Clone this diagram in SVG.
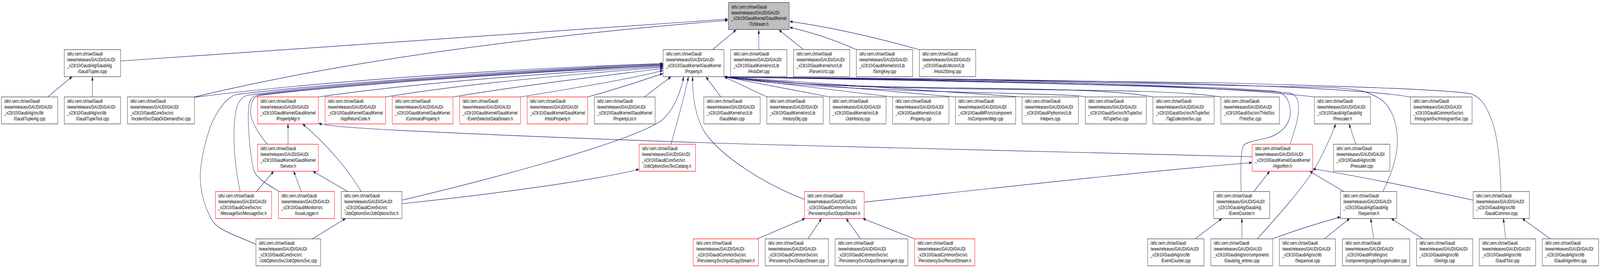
<svg xmlns="http://www.w3.org/2000/svg" width="5764" height="683" viewBox="0 0 5764 683" preserveAspectRatio="none">
<style>
svg:root{width:100vw;height:100vh}
.node rect{fill:#fff;stroke:#333;stroke-width:1.2}
.node.red rect{stroke:#ff0000}
.node.root rect{fill:#bfbfbf}
.node text{font-family:"Liberation Sans",Arial,Helvetica,sans-serif;font-size:13px;fill:#000}
.node text.c{text-anchor:middle}
.edge path{fill:none;stroke:#191970;stroke-width:1.2;marker-end:url(#arr)}
</style>
<defs>
<marker id="arr" viewBox="0 0 10 7" refX="10" refY="3.5" markerWidth="10" markerHeight="7" markerUnits="userSpaceOnUse" orient="auto">
<path d="M0,0 L10,3.5 L0,7 z" fill="#191970" stroke="#191970" stroke-width="0.5"/>
</marker>
</defs>
<rect x="0" y="0" width="5764" height="683" fill="#fff"/>
<g id="edges" class="edge">
<path id="e1" d="M434.5,156 L2622,49"/>
<path id="e2" d="M700.5,248 C1100,180 1700,105 2622,52"/>
<path id="e3" d="M2567,127 L2652,76.5"/>
<path id="e4" d="M2733.5,127 L2733.5,76.5"/>
<path id="e5" d="M2895,127 L2806,76.5"/>
<path id="e6" d="M3085,127 C3000,100 2920,82 2845,70"/>
<path id="e7" d="M3312,127 C3150,95 3000,70 2845,55"/>
<path id="e8" d="M700.5,249 C1100,212 1800,176 2388,162.5"/>
<path id="e9" d="M922,625 C860,605 790,590 767,567 C735,530 718,480 722,440 C726,400 740,360 760,320 C785,280 815,250 850,242 C1000,226 1800,180 2388,163.5"/>
<path id="e10" d="M865,490 C850,440 838,370 845,310 C850,270 862,250 890,244 C1100,222 1800,184 2388,165"/>
<path id="e11" d="M1006,490 C960,470 918,455 912,430 C898,380 890,300 897,268 C901,252 912,246 930,243 C1150,222 1800,186 2388,166.5"/>
<path id="e12" d="M963,369 C935,345 905,315 903,288 C902,262 912,248 935,244 C1150,224 1800,188 2388,168"/>
<path id="e13" d="M1147,248 C1500,212 2000,186 2388,170"/>
<path id="e14" d="M1389,248 C1700,212 2100,188 2388,172"/>
<path id="e15" d="M1632,248 C1900,216 2200,192 2388,175"/>
<path id="e16" d="M1875,248 C2100,222 2300,198 2388,180"/>
<path id="e17" d="M2117,248 C2250,222 2330,202 2388,188"/>
<path id="e18" d="M2321,248 L2417,196.5"/>
<path id="e19" d="M1448,512 C1700,470 2250,370 2380,310 C2425,285 2450,240 2463,196.5"/>
<path id="e20" d="M2417,369 C2440,310 2465,250 2480,196.5"/>
<path id="e21" d="M2898,510 C2750,470 2600,400 2540,340 C2505,300 2495,250 2495,196.5"/>
<path id="e22" d="M2597,248 L2543,196.5"/>
<path id="e23" d="M2763,248 L2609,196.5"/>
<path id="e24" d="M2989,248 L2609,196.5"/>
<path id="e25" d="M3215.5,248 L2609,196.5"/>
<path id="e26" d="M3442,248 L2609,196.5"/>
<path id="e27" d="M3682,248 L2609,196.5"/>
<path id="e28" d="M3910,248 C3870,236 3000,240 2610,197"/>
<path id="e29" d="M4153.5,248 C3900,212 3100,240 2610,197"/>
<path id="e30" d="M4398.5,248 C4100,215 3200,246 2610,197"/>
<path id="e31" d="M4735,248 C4300,210 3300,205 2610,197"/>
<path id="e32" d="M5081.5,248 C4800,215 3800,202 2610,197"/>
<path id="e33" d="M4471,490 C4470,440 4468,385 4480,372 C4490,362 4540,358 4570,352 C4620,340 4650,315 4648,285 C4646,255 4630,240 4600,234 C4300,215 3300,205 2610,197"/>
<path id="e34" d="M4648,369 C4665,330 4680,300 4678,270 C4676,250 4665,240 4640,237 C4300,220 3300,205 2610,197"/>
<path id="e35" d="M4982,490 C5010,450 5035,400 5034,360 C5033,310 5010,270 4970,252 C4930,235 4900,228 4800,224 C4200,210 3300,202 2610,197"/>
<path id="e36" d="M5407,490 C5405,420 5395,340 5370,300 C5350,265 5330,248 5300,240 C5200,228 4800,220 4400,212 C3800,204 3200,200 2610,197"/>
<path id="e37" d="M1037.5,369 L1037.5,317"/>
<path id="e38" d="M1301,490 C1260,440 1180,370 1090,317"/>
<path id="e39" d="M4511,401 C3900,390 3300,378 2880,372 C2400,364 1700,343 1400,332 C1280,327 1200,324 1148,316"/>
<path id="e40" d="M1253,490 L1127,438"/>
<path id="e41" d="M1085.5,490 L1058,438"/>
<path id="e42" d="M924,490 L986,438"/>
<path id="e43" d="M1125,611 L1245,559"/>
<path id="e44" d="M1448,521 C1800,495 2150,460 2302,433"/>
<path id="e45" d="M171.5,248 L260,196"/>
<path id="e46" d="M333,248 L333,196"/>
<path id="e47" d="M2728,611 L2900,559"/>
<path id="e48" d="M2910.6,611 L2959.6,559"/>
<path id="e49" d="M3100.5,611 L3048,559"/>
<path id="e50" d="M3295,611 L3108,559"/>
<path id="e51" d="M3113,517 C3600,480 4100,440 4510,416"/>
<path id="e52" d="M4517,490 L4574,438"/>
<path id="e53" d="M4841,490 L4718,438"/>
<path id="e54" d="M5307,512 C5100,480 4850,445 4730,432"/>
<path id="e55" d="M4305,611 L4402,559"/>
<path id="e56" d="M4473.8,611 L4473.8,559"/>
<path id="e57" d="M4529,611 C4620,540 4720,460 4760,400 C4785,365 4800,340 4812,317"/>
<path id="e58" d="M4585,611 C4680,585 4780,565 4829,555"/>
<path id="e59" d="M4771,611 L4862,559"/>
<path id="e60" d="M4949,611 L4938,559"/>
<path id="e61" d="M5125.5,611 L5012,559"/>
<path id="e62" d="M5424,611 L5416,559"/>
<path id="e63" d="M5585,611 L5484,559"/>
<path id="e64" d="M4884,369 L4860,317"/>
</g>
<g id="nodes">
<g id="n_tostream" class="node root"><rect x="2624" y="6.5" width="219" height="69"/><text><tspan x="2634" y="22">/afs/.cern.ch/sw/Gaudi</tspan><tspan x="2634" y="36.7">/www/releases/GAUDI/GAUDI</tspan><tspan x="2634" y="51.4">_v23r10/GaudiKernel/GaudiKernel</tspan></text><text class="c" x="2733.5" y="66.1">/ToStream.h</text></g>

<g id="n_gaudituples_icpp" class="node"><rect x="231.5" y="127" width="203" height="69"/><text><tspan x="241.5" y="142.5">/afs/.cern.ch/sw/Gaudi</tspan><tspan x="241.5" y="157.2">/www/releases/GAUDI/GAUDI</tspan><tspan x="241.5" y="171.9">_v23r10/GaudiAlg/GaudiAlg</tspan></text><text class="c" x="333" y="186.6">/GaudiTuples.icpp</text></g>
<g id="n_property_h" class="node"><rect x="2389" y="127" width="219" height="69"/><text><tspan x="2399" y="142.5">/afs/.cern.ch/sw/Gaudi</tspan><tspan x="2399" y="157.2">/www/releases/GAUDI/GAUDI</tspan><tspan x="2399" y="171.9">_v23r10/GaudiKernel/GaudiKernel</tspan></text><text class="c" x="2498.5" y="186.6">/Property.h</text></g>
<g id="n_histodef" class="node"><rect x="2632" y="127" width="203" height="69"/><text><tspan x="2642" y="142.5">/afs/.cern.ch/sw/Gaudi</tspan><tspan x="2642" y="157.2">/www/releases/GAUDI/GAUDI</tspan><tspan x="2642" y="171.9">_v23r10/GaudiKernel/src/Lib</tspan></text><text class="c" x="2733.5" y="186.6">/HistoDef.cpp</text></g>
<g id="n_parsersvct" class="node"><rect x="2859" y="127" width="202" height="69"/><text><tspan x="2869" y="142.5">/afs/.cern.ch/sw/Gaudi</tspan><tspan x="2869" y="157.2">/www/releases/GAUDI/GAUDI</tspan><tspan x="2869" y="171.9">_v23r10/GaudiKernel/src/Lib</tspan></text><text class="c" x="2960" y="186.6">/ParsersVct.cpp</text></g>
<g id="n_stringkey" class="node"><rect x="3085" y="127" width="203" height="69"/><text><tspan x="3095" y="142.5">/afs/.cern.ch/sw/Gaudi</tspan><tspan x="3095" y="157.2">/www/releases/GAUDI/GAUDI</tspan><tspan x="3095" y="171.9">_v23r10/GaudiKernel/src/Lib</tspan></text><text class="c" x="3186.5" y="186.6">/StringKey.cpp</text></g>
<g id="n_histo2string" class="node"><rect x="3312" y="127" width="203" height="69"/><text><tspan x="3322" y="142.5">/afs/.cern.ch/sw/Gaudi</tspan><tspan x="3322" y="157.2">/www/releases/GAUDI/GAUDI</tspan><tspan x="3322" y="171.9">_v23r10/GaudiUtils/src/Lib</tspan></text><text class="c" x="3413.5" y="186.6">/Histo2String.cpp</text></g>

<g id="n_gaudituplealg" class="node"><rect x="5" y="248" width="203" height="69"/><text><tspan x="15" y="263.5">/afs/.cern.ch/sw/Gaudi</tspan><tspan x="15" y="278.2">/www/releases/GAUDI/GAUDI</tspan><tspan x="15" y="292.9">_v23r10/GaudiAlg/src/lib</tspan></text><text class="c" x="106.5" y="307.6">/GaudiTupleAlg.cpp</text></g>
<g id="n_gaudituptool" class="node"><rect x="231.5" y="248" width="203" height="69"/><text><tspan x="241.5" y="263.5">/afs/.cern.ch/sw/Gaudi</tspan><tspan x="241.5" y="278.2">/www/releases/GAUDI/GAUDI</tspan><tspan x="241.5" y="292.9">_v23r10/GaudiAlg/src/lib</tspan></text><text class="c" x="333" y="307.6">/GaudiTupleTool.cpp</text></g>
<g id="n_dataondemand" class="node"><rect x="459" y="248" width="241.5" height="69"/><text><tspan x="469" y="263.5">/afs/.cern.ch/sw/Gaudi</tspan><tspan x="469" y="278.2">/www/releases/GAUDI/GAUDI</tspan><tspan x="469" y="292.9">_v23r10/GaudiCoreSvc/src</tspan></text><text class="c" x="579.75" y="307.6">/IncidentSvc/DataOnDemandSvc.cpp</text></g>
<g id="n_propertymgr" class="node red"><rect x="928" y="248" width="219" height="69"/><text><tspan x="938" y="263.5">/afs/.cern.ch/sw/Gaudi</tspan><tspan x="938" y="278.2">/www/releases/GAUDI/GAUDI</tspan><tspan x="938" y="292.9">_v23r10/GaudiKernel/GaudiKernel</tspan></text><text class="c" x="1037.5" y="307.6">/PropertyMgr.h</text></g>
<g id="n_appreturncode" class="node red"><rect x="1171" y="248" width="218" height="69"/><text><tspan x="1181" y="263.5">/afs/.cern.ch/sw/Gaudi</tspan><tspan x="1181" y="278.2">/www/releases/GAUDI/GAUDI</tspan><tspan x="1181" y="292.9">_v23r10/GaudiKernel/GaudiKernel</tspan></text><text class="c" x="1280" y="307.6">/AppReturnCode.h</text></g>
<g id="n_commandproperty" class="node red"><rect x="1413" y="248" width="219" height="69"/><text><tspan x="1423" y="263.5">/afs/.cern.ch/sw/Gaudi</tspan><tspan x="1423" y="278.2">/www/releases/GAUDI/GAUDI</tspan><tspan x="1423" y="292.9">_v23r10/GaudiKernel/GaudiKernel</tspan></text><text class="c" x="1522.5" y="307.6">/CommandProperty.h</text></g>
<g id="n_evtseldatastream" class="node red"><rect x="1656" y="248" width="219" height="69"/><text><tspan x="1666" y="263.5">/afs/.cern.ch/sw/Gaudi</tspan><tspan x="1666" y="278.2">/www/releases/GAUDI/GAUDI</tspan><tspan x="1666" y="292.9">_v23r10/GaudiKernel/GaudiKernel</tspan></text><text class="c" x="1765.5" y="307.6">/EventSelectorDataStream.h</text></g>
<g id="n_histoproperty" class="node red"><rect x="1899" y="248" width="218" height="69"/><text><tspan x="1909" y="263.5">/afs/.cern.ch/sw/Gaudi</tspan><tspan x="1909" y="278.2">/www/releases/GAUDI/GAUDI</tspan><tspan x="1909" y="292.9">_v23r10/GaudiKernel/GaudiKernel</tspan></text><text class="c" x="2008" y="307.6">/HistoProperty.h</text></g>
<g id="n_propertylist" class="node"><rect x="2141" y="248" width="219" height="69"/><text><tspan x="2151" y="263.5">/afs/.cern.ch/sw/Gaudi</tspan><tspan x="2151" y="278.2">/www/releases/GAUDI/GAUDI</tspan><tspan x="2151" y="292.9">_v23r10/GaudiKernel/GaudiKernel</tspan></text><text class="c" x="2250.5" y="307.6">/PropertyList.h</text></g>
<g id="n_gaudimain" class="node"><rect x="2535.5" y="248" width="203" height="69"/><text><tspan x="2545.5" y="263.5">/afs/.cern.ch/sw/Gaudi</tspan><tspan x="2545.5" y="278.2">/www/releases/GAUDI/GAUDI</tspan><tspan x="2545.5" y="292.9">_v23r10/GaudiKernel/src/Lib</tspan></text><text class="c" x="2637" y="307.6">/GaudiMain.cpp</text></g>
<g id="n_historyobj" class="node"><rect x="2762.5" y="248" width="203" height="69"/><text><tspan x="2772.5" y="263.5">/afs/.cern.ch/sw/Gaudi</tspan><tspan x="2772.5" y="278.2">/www/releases/GAUDI/GAUDI</tspan><tspan x="2772.5" y="292.9">_v23r10/GaudiKernel/src/Lib</tspan></text><text class="c" x="2864" y="307.6">/HistoryObj.cpp</text></g>
<g id="n_jobhistory" class="node"><rect x="2989" y="248" width="203" height="69"/><text><tspan x="2999" y="263.5">/afs/.cern.ch/sw/Gaudi</tspan><tspan x="2999" y="278.2">/www/releases/GAUDI/GAUDI</tspan><tspan x="2999" y="292.9">_v23r10/GaudiKernel/src/Lib</tspan></text><text class="c" x="3090.5" y="307.6">/JobHistory.cpp</text></g>
<g id="n_property_cpp" class="node"><rect x="3215.5" y="248" width="203" height="69"/><text><tspan x="3225.5" y="263.5">/afs/.cern.ch/sw/Gaudi</tspan><tspan x="3225.5" y="278.2">/www/releases/GAUDI/GAUDI</tspan><tspan x="3225.5" y="292.9">_v23r10/GaudiKernel/src/Lib</tspan></text><text class="c" x="3317" y="307.6">/Property.cpp</text></g>
<g id="n_iocomponentmgr" class="node"><rect x="3442" y="248" width="217" height="69"/><text><tspan x="3452" y="263.5">/afs/.cern.ch/sw/Gaudi</tspan><tspan x="3452" y="278.2">/www/releases/GAUDI/GAUDI</tspan><tspan x="3452" y="292.9">_v23r10/GaudiMP/src/component</tspan></text><text class="c" x="3550.5" y="307.6">/IoComponentMgr.cpp</text></g>
<g id="n_helpers" class="node"><rect x="3682" y="248" width="203" height="69"/><text><tspan x="3692" y="263.5">/afs/.cern.ch/sw/Gaudi</tspan><tspan x="3692" y="278.2">/www/releases/GAUDI/GAUDI</tspan><tspan x="3692" y="292.9">_v23r10/GaudiPython/src/Lib</tspan></text><text class="c" x="3783.5" y="307.6">/Helpers.cpp</text></g>
<g id="n_ntuplesvc" class="node"><rect x="3910" y="248" width="219.5" height="69"/><text><tspan x="3920" y="263.5">/afs/.cern.ch/sw/Gaudi</tspan><tspan x="3920" y="278.2">/www/releases/GAUDI/GAUDI</tspan><tspan x="3920" y="292.9">_v23r10/GaudiSvc/src/NTupleSvc</tspan></text><text class="c" x="4019.75" y="307.6">/NTupleSvc.cpp</text></g>
<g id="n_tagcollectionsvc" class="node"><rect x="4153.5" y="248" width="220.5" height="69"/><text><tspan x="4163.5" y="263.5">/afs/.cern.ch/sw/Gaudi</tspan><tspan x="4163.5" y="278.2">/www/releases/GAUDI/GAUDI</tspan><tspan x="4163.5" y="292.9">_v23r10/GaudiSvc/src/NTupleSvc</tspan></text><text class="c" x="4263.75" y="307.6">/TagCollectionSvc.cpp</text></g>
<g id="n_thistsvc" class="node"><rect x="4398.5" y="248" width="210.5" height="69"/><text><tspan x="4408.5" y="263.5">/afs/.cern.ch/sw/Gaudi</tspan><tspan x="4408.5" y="278.2">/www/releases/GAUDI/GAUDI</tspan><tspan x="4408.5" y="292.9">_v23r10/GaudiSvc/src/THistSvc</tspan></text><text class="c" x="4503.75" y="307.6">/THistSvc.cpp</text></g>
<g id="n_prescaler_h" class="node"><rect x="4735" y="248" width="202.5" height="69"/><text><tspan x="4745" y="263.5">/afs/.cern.ch/sw/Gaudi</tspan><tspan x="4745" y="278.2">/www/releases/GAUDI/GAUDI</tspan><tspan x="4745" y="292.9">_v23r10/GaudiAlg/GaudiAlg</tspan></text><text class="c" x="4836.25" y="307.6">/Prescaler.h</text></g>
<g id="n_histogramsvc" class="node"><rect x="5081.5" y="248" width="221.5" height="69"/><text><tspan x="5091.5" y="263.5">/afs/.cern.ch/sw/Gaudi</tspan><tspan x="5091.5" y="278.2">/www/releases/GAUDI/GAUDI</tspan><tspan x="5091.5" y="292.9">_v23r10/GaudiCommonSvc/src</tspan></text><text class="c" x="5192.25" y="307.6">/HistogramSvc/HistogramSvc.cpp</text></g>

<g id="n_service_h" class="node red"><rect x="928" y="369" width="219" height="69"/><text><tspan x="938" y="384.5">/afs/.cern.ch/sw/Gaudi</tspan><tspan x="938" y="399.2">/www/releases/GAUDI/GAUDI</tspan><tspan x="938" y="413.9">_v23r10/GaudiKernel/GaudiKernel</tspan></text><text class="c" x="1037.5" y="428.6">/Service.h</text></g>
<g id="n_svccatalog" class="node red"><rect x="2302.5" y="369" width="203" height="69"/><text><tspan x="2312.5" y="384.5">/afs/.cern.ch/sw/Gaudi</tspan><tspan x="2312.5" y="399.2">/www/releases/GAUDI/GAUDI</tspan><tspan x="2312.5" y="413.9">_v23r10/GaudiCoreSvc/src</tspan></text><text class="c" x="2404" y="428.6">/JobOptionsSvc/SvcCatalog.h</text></g>
<g id="n_algorithm_h" class="node red"><rect x="4511" y="369" width="218" height="69"/><text><tspan x="4521" y="384.5">/afs/.cern.ch/sw/Gaudi</tspan><tspan x="4521" y="399.2">/www/releases/GAUDI/GAUDI</tspan><tspan x="4521" y="413.9">_v23r10/GaudiKernel/GaudiKernel</tspan></text><text class="c" x="4620" y="428.6">/Algorithm.h</text></g>
<g id="n_prescaler_cpp" class="node"><rect x="4804" y="369" width="203" height="69"/><text><tspan x="4814" y="384.5">/afs/.cern.ch/sw/Gaudi</tspan><tspan x="4814" y="399.2">/www/releases/GAUDI/GAUDI</tspan><tspan x="4814" y="413.9">_v23r10/GaudiAlg/src/lib</tspan></text><text class="c" x="4905.5" y="428.6">/Prescaler.cpp</text></g>

<g id="n_messagesvc_h" class="node red"><rect x="776" y="490" width="202.5" height="69"/><text><tspan x="786" y="505.5">/afs/.cern.ch/sw/Gaudi</tspan><tspan x="786" y="520.2">/www/releases/GAUDI/GAUDI</tspan><tspan x="786" y="534.9">_v23r10/GaudiCoreSvc/src</tspan></text><text class="c" x="877.25" y="549.6">/MessageSvc/MessageSvc.h</text></g>
<g id="n_issuelogger" class="node red"><rect x="1003" y="490" width="202.5" height="69"/><text><tspan x="1013" y="505.5">/afs/.cern.ch/sw/Gaudi</tspan><tspan x="1013" y="520.2">/www/releases/GAUDI/GAUDI</tspan><tspan x="1013" y="534.9">_v23r10/GaudiMonitor/src</tspan></text><text class="c" x="1104.25" y="549.6">/IssueLogger.h</text></g>
<g id="n_joboptionssvc_h" class="node"><rect x="1229.5" y="490" width="218.5" height="69"/><text><tspan x="1239.5" y="505.5">/afs/.cern.ch/sw/Gaudi</tspan><tspan x="1239.5" y="520.2">/www/releases/GAUDI/GAUDI</tspan><tspan x="1239.5" y="534.9">_v23r10/GaudiCoreSvc/src</tspan></text><text class="c" x="1338.75" y="549.6">/JobOptionsSvc/JobOptionsSvc.h</text></g>
<g id="n_outputstream_h" class="node red"><rect x="2898" y="490" width="215" height="69"/><text><tspan x="2908" y="505.5">/afs/.cern.ch/sw/Gaudi</tspan><tspan x="2908" y="520.2">/www/releases/GAUDI/GAUDI</tspan><tspan x="2908" y="534.9">_v23r10/GaudiCommonSvc/src</tspan></text><text class="c" x="3005.5" y="549.6">/PersistencySvc/OutputStream.h</text></g>
<g id="n_eventcounter_h" class="node"><rect x="4372" y="490" width="202" height="69"/><text><tspan x="4382" y="505.5">/afs/.cern.ch/sw/Gaudi</tspan><tspan x="4382" y="520.2">/www/releases/GAUDI/GAUDI</tspan><tspan x="4382" y="534.9">_v23r10/GaudiAlg/GaudiAlg</tspan></text><text class="c" x="4473" y="549.6">/EventCounter.h</text></g>
<g id="n_sequencer_h" class="node"><rect x="4829" y="490" width="203" height="69"/><text><tspan x="4839" y="505.5">/afs/.cern.ch/sw/Gaudi</tspan><tspan x="4839" y="520.2">/www/releases/GAUDI/GAUDI</tspan><tspan x="4839" y="534.9">_v23r10/GaudiAlg/GaudiAlg</tspan></text><text class="c" x="4930.5" y="549.6">/Sequencer.h</text></g>
<g id="n_gaudicommon_icpp" class="node"><rect x="5307" y="490" width="202.5" height="69"/><text><tspan x="5317" y="505.5">/afs/.cern.ch/sw/Gaudi</tspan><tspan x="5317" y="520.2">/www/releases/GAUDI/GAUDI</tspan><tspan x="5317" y="534.9">_v23r10/GaudiAlg/src/lib</tspan></text><text class="c" x="5408.25" y="549.6">/GaudiCommon.icpp</text></g>

<g id="n_joboptionssvc_cpp" class="node"><rect x="922" y="611" width="233" height="69"/><text><tspan x="932" y="626.5">/afs/.cern.ch/sw/Gaudi</tspan><tspan x="932" y="641.2">/www/releases/GAUDI/GAUDI</tspan><tspan x="932" y="655.9">_v23r10/GaudiCoreSvc/src</tspan></text><text class="c" x="1038.5" y="670.6">/JobOptionsSvc/JobOptionsSvc.cpp</text></g>
<g id="n_inputcopystream" class="node red"><rect x="2497.5" y="611" width="235" height="69"/><text><tspan x="2507.5" y="626.5">/afs/.cern.ch/sw/Gaudi</tspan><tspan x="2507.5" y="641.2">/www/releases/GAUDI/GAUDI</tspan><tspan x="2507.5" y="655.9">_v23r10/GaudiCommonSvc/src</tspan></text><text class="c" x="2615" y="670.6">/PersistencySvc/InputCopyStream.h</text></g>
<g id="n_outputstream_cpp" class="node"><rect x="2756.5" y="611" width="228" height="69"/><text><tspan x="2766.5" y="626.5">/afs/.cern.ch/sw/Gaudi</tspan><tspan x="2766.5" y="641.2">/www/releases/GAUDI/GAUDI</tspan><tspan x="2766.5" y="655.9">_v23r10/GaudiCommonSvc/src</tspan></text><text class="c" x="2870.5" y="670.6">/PersistencySvc/OutputStream.cpp</text></g>
<g id="n_outputstreamagent" class="node"><rect x="3008.5" y="611" width="262" height="69"/><text><tspan x="3018.5" y="626.5">/afs/.cern.ch/sw/Gaudi</tspan><tspan x="3018.5" y="641.2">/www/releases/GAUDI/GAUDI</tspan><tspan x="3018.5" y="655.9">_v23r10/GaudiCommonSvc/src</tspan></text><text class="c" x="3139.5" y="670.6">/PersistencySvc/OutputStreamAgent.cpp</text></g>
<g id="n_recordstream" class="node red"><rect x="3295" y="611" width="217" height="69"/><text><tspan x="3305" y="626.5">/afs/.cern.ch/sw/Gaudi</tspan><tspan x="3305" y="641.2">/www/releases/GAUDI/GAUDI</tspan><tspan x="3305" y="655.9">_v23r10/GaudiCommonSvc/src</tspan></text><text class="c" x="3403.5" y="670.6">/PersistencySvc/RecordStream.h</text></g>
<g id="n_eventcounter_cpp" class="node"><rect x="4134.5" y="611" width="203" height="69"/><text><tspan x="4144.5" y="626.5">/afs/.cern.ch/sw/Gaudi</tspan><tspan x="4144.5" y="641.2">/www/releases/GAUDI/GAUDI</tspan><tspan x="4144.5" y="655.9">_v23r10/GaudiAlg/src/lib</tspan></text><text class="c" x="4236" y="670.6">/EventCounter.cpp</text></g>
<g id="n_gaudialg_entries" class="node"><rect x="4362" y="611" width="223" height="69"/><text><tspan x="4372" y="626.5">/afs/.cern.ch/sw/Gaudi</tspan><tspan x="4372" y="641.2">/www/releases/GAUDI/GAUDI</tspan><tspan x="4372" y="655.9">_v23r10/GaudiAlg/src/components</tspan></text><text class="c" x="4473.5" y="670.6">/GaudiAlg_entries.cpp</text></g>
<g id="n_sequencer_cpp" class="node"><rect x="4609" y="611" width="202" height="69"/><text><tspan x="4619" y="626.5">/afs/.cern.ch/sw/Gaudi</tspan><tspan x="4619" y="641.2">/www/releases/GAUDI/GAUDI</tspan><tspan x="4619" y="655.9">_v23r10/GaudiAlg/src/lib</tspan></text><text class="c" x="4710" y="670.6">/Sequencer.cpp</text></g>
<g id="n_googleauditor" class="node"><rect x="4836" y="611" width="242.5" height="69"/><text><tspan x="4846" y="626.5">/afs/.cern.ch/sw/Gaudi</tspan><tspan x="4846" y="641.2">/www/releases/GAUDI/GAUDI</tspan><tspan x="4846" y="655.9">_v23r10/GaudiProfiling/src</tspan></text><text class="c" x="4957.25" y="670.6">/component/google/GoogleAuditor.cpp</text></g>
<g id="n_getalgs" class="node"><rect x="5103" y="611" width="202.5" height="69"/><text><tspan x="5113" y="626.5">/afs/.cern.ch/sw/Gaudi</tspan><tspan x="5113" y="641.2">/www/releases/GAUDI/GAUDI</tspan><tspan x="5113" y="655.9">_v23r10/GaudiAlg/src/lib</tspan></text><text class="c" x="5204.25" y="670.6">/GetAlgs.cpp</text></g>
<g id="n_gauditool" class="node"><rect x="5329" y="611" width="203" height="69"/><text><tspan x="5339" y="626.5">/afs/.cern.ch/sw/Gaudi</tspan><tspan x="5339" y="641.2">/www/releases/GAUDI/GAUDI</tspan><tspan x="5339" y="655.9">_v23r10/GaudiAlg/src/lib</tspan></text><text class="c" x="5430.5" y="670.6">/GaudiTool.cpp</text></g>
<g id="n_gaudialgorithm" class="node"><rect x="5556" y="611" width="203" height="69"/><text><tspan x="5566" y="626.5">/afs/.cern.ch/sw/Gaudi</tspan><tspan x="5566" y="641.2">/www/releases/GAUDI/GAUDI</tspan><tspan x="5566" y="655.9">_v23r10/GaudiAlg/src/lib</tspan></text><text class="c" x="5657.5" y="670.6">/GaudiAlgorithm.cpp</text></g>
</g>
</svg>
